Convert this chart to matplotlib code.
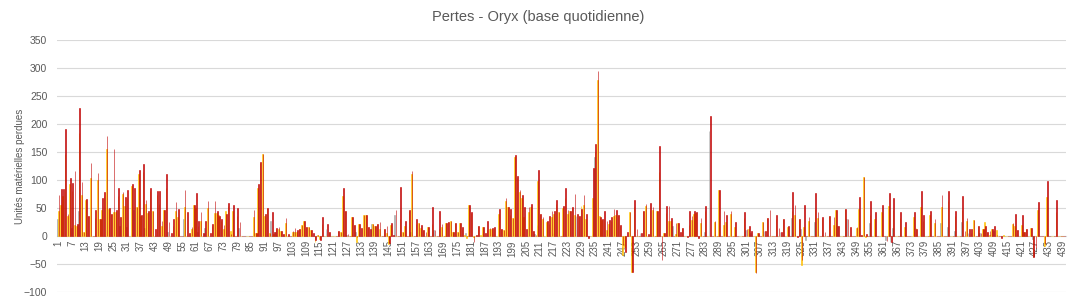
import numpy as np
import matplotlib.pyplot as plt

# daily losses, day 1 .. 440 (three series)
red = [
    74, 84, 84, 191, 40, 104, 94, 116, 21, 229,
    97, 8, 66, 36, 130, 0, 47, 113, 31, 67,
    79, 179, 50, 40, 155, 47, 86, 34, 78, 70,
    83, 0, 92, 85, 52, 117, 37, 128, 65, 44,
    85, 44, 13, 80, 80, 27, 47, 110, 25, 6,
    31, 61, 49, 0, 0, 82, 42, 6, 16, 56,
    76, 26, 42, 6, 27, 63, 5, 22, 63, 44,
    35, 31, 19, 40, 59, 3, 56, 0, 50, 25,
    0, 0, 0, 0, 0, 47, 6, 92, 132, 146,
    40, 50, 6, 43, 8, 15, 16, 9, 3, 33,
    3, 0, 9, 14, 11, 12, 20, 26, 16, 16,
    11, 6, -8, 2, -7, 34, 0, 21, 7, 0,
    0, 0, 9, 7, 85, 44, 3, 0, 34, 20,
    -2, 22, 14, 38, 38, 16, 12, 22, 18, 22,
    25, 0, 12, 18, -13, 24, 2, 47, 0, 87,
    7, 27, 0, 47, 116, 0, 31, 24, 20, 11,
    7, 16, 0, 51, 11, 0, 45, 22, 0, 24,
    25, 27, 7, 24, 7, 24, 16, 0, 0, 56,
    43, -10, 2, 18, 0, 16, 6, 27, 14, 14,
    16, 0, 49, 13, 11, 67, 52, 49, 33, 145,
    107, 83, 74, 51, 13, 51, 58, 9, 2, 117,
    40, 34, 0, 27, 36, 45, 45, 65, 43, 0,
    53, 86, 47, 45, 51, 75, 40, 35, 49, 74,
    40, -4, 0, 122, 164, 294, 34, 31, 45, 27,
    29, 34, 49, 47, 38, 20, -16, -28, 7, 43,
    -65, 65, 12, 0, 5, 45, 58, 3, 59, 52,
    0, 44, 160, -43, 6, 54, 53, 32, 0, 23,
    24, 7, 14, 0, -2, 45, 35, 45, 43, -4,
    32, 0, 54, 0, 214, 0, 27, 0, 83, 0,
    45, 38, 0, 45, 0, 25, 0, 0, 0, 43,
    13, 18, 9, 0, -66, 6, 0, 25, 9, 33,
    47, 0, 0, 38, 14, 7, 31, 0, 18, 0,
    78, 56, -2, 31, -42, 56, 0, 34, 0, 0,
    76, 42, 0, 34, 7, 0, 36, 0, 34, 47,
    18, 0, 0, 49, 31, 16, 0, 0, 16, 69,
    2, 105, 4, 0, 63, 0, 42, 0, 0, 56,
    0, -9, 76, -11, 67, 0, 0, 43, 0, 25,
    0, 0, 0, 42, 13, 0, 81, 38, 0, 0,
    45, 0, 31, 0, 0, 74, 0, 0, 81, 0,
    0, 45, 0, 0, 72, 9, 33, 13, 13, 29,
    0, 18, 5, 13, 18, 7, 9, 13, 18, 2,
    0, -4, 0, 0, 0, 0, 24, 40, 11, 0,
    38, 7, 13, 0, 14, -37, -22, 60, 0, 0,
    -14, 99, 0, 0, 0, 65, 0, 0, 0, 0,
]

yellow = [
    44, 56, 72, 146, 35, 92, 81, 20, 18, 184,
    74, 8, 65, 35, 103, 0, 32, 100, 30, 46,
    72, 155, 48, 39, 43, 43, 71, 18, 75, 53,
    67, 0, 89, 0, 52, 110, 35, 114, 58, 41,
    81, 44, 0, 74, 58, 17, 46, 85, 0, 0,
    17, 44, 34, 0, 0, 52, 0, 0, 12, 56,
    50, 18, 26, 0, 0, 50, 0, 18, 41, 41,
    37, 26, 12, 44, 53, 9, 44, 0, 36, 0,
    0, 0, 0, 0, 0, 34, 6, 85, 130, 146,
    36, 50, 6, 0, 3, 12, 12, 9, 3, 24,
    0, 0, 7, 8, 8, 12, 19, 26, 16, 16,
    11, 0, -10, 2, -5, 21, 0, 0, 7, 0,
    0, 0, 9, 7, 72, 44, 0, 0, 34, 20,
    -10, 22, 0, 38, 38, 16, 0, 22, 18, 22,
    12, 0, 12, 5, -15, 20, 0, 0, 0, 31,
    8, 18, 0, 44, 110, 0, 22, 24, 14, 11,
    0, 16, 0, 22, 0, 0, 13, 16, 0, 24,
    25, 27, 7, 24, 7, 24, 13, 2, -4, 56,
    41, -2, 0, 18, 2, 16, 0, 11, 13, 13,
    14, 0, 40, 13, 11, 63, 52, 38, 33, 141,
    103, 78, 68, 34, 0, 43, 52, 9, 0, 98,
    40, 30, 0, 25, 22, 34, 40, 58, 43, 0,
    50, 68, 40, 45, 50, 38, 0, 35, 54, 55,
    31, 0, 0, 67, 150, 278, 36, 29, 31, 11,
    22, 27, 36, 38, 38, 17, -34, -19, 0, 43,
    -65, 51, 0, 0, 0, 45, 54, 0, 47, 47,
    0, 45, 114, 0, 6, 41, 27, 27, 0, 3,
    23, 0, 14, 0, 0, 20, 29, 40, 41, 0,
    24, 0, 45, 0, 0, 0, 25, 0, 83, 0,
    20, 25, 0, 40, 0, 16, 0, 0, 0, 33,
    0, 13, 0, 0, -64, 6, 0, 25, 0, 33,
    0, 0, 0, 31, 0, 0, 31, 0, 16, 0,
    45, 38, 0, 31, -52, 16, 0, 27, 0, 0,
    49, 33, 0, 31, 0, 0, 36, 0, 20, 47,
    0, 0, 0, 49, 0, 0, 0, 0, 14, 49,
    2, 105, -2, 0, 38, 0, 31, 0, 0, 42,
    0, 0, 54, 0, 47, 0, 0, 33, 0, 16,
    0, 0, 0, 34, 14, 0, 52, 27, 0, 0,
    38, 0, 24, 0, 0, 51, 0, 0, 63, 0,
    0, 36, 0, 0, 47, 0, 27, 0, 5, 29,
    0, 18, 0, 13, 25, 7, 2, 13, 0, 11,
    0, -2, 2, 0, 0, 0, 22, 18, 11, 0,
    20, 7, 13, 0, 14, -37, 0, 47, 0, 0,
    -17, 69, 0, 0, 0, 43, 0, 0, 0, 0,
]

grey = [
    31, 0, 0, 0, 0, 0, 14, 0, 0, 44,
    0, 0, 0, 0, 0, 0, 0, 0, 0, 0,
    0, 0, 0, 0, 0, 0, 0, 17, 0, 0,
    16, 0, 0, 47, 0, 0, 0, 0, 14, 0,
    0, 0, 0, 0, 0, 0, 0, 0, 8, 0,
    0, 0, 0, 0, 0, 31, 0, 0, 0, 0,
    0, 8, 0, 0, 14, 0, 0, 0, 0, 0,
    0, 0, 0, 0, 0, 0, 0, 0, 0, 14,
    0, 0, 0, 0, 0, 0, 0, 0, 0, 0,
    0, 0, 0, 27, 0, 8, 0, 0, 0, 0,
    0, 0, 0, 8, 0, 0, 0, 0, 0, 0,
    0, 0, 0, 0, 0, 0, 0, 13, 0, 0,
    0, 0, 0, 0, 8, 0, 2, 0, 0, 0,
    8, 0, 0, 0, 0, 0, 0, 22, 0, 0,
    0, 0, 0, 0, 0, 0, 0, 38, 0, 0,
    0, 0, 0, 0, 8, 0, 0, 0, 0, 0,
    0, 0, 0, 0, 11, 0, 0, 0, 0, 0,
    0, 0, 0, 0, 0, 0, 0, 0, 5, 0,
    0, 0, 0, 0, 0, 0, 0, 0, 0, 0,
    0, 0, 0, 0, 0, 0, 0, 0, 0, 0,
    0, 0, 0, 0, 0, 0, 0, 0, 4, 20,
    0, 0, 0, 0, 0, 0, 5, 0, 0, 0,
    0, 0, 0, 0, 0, 0, 36, 0, 0, 0,
    0, 0, 0, 0, 141, 0, 0, 0, 0, 0,
    0, 0, 0, 0, 0, 0, 0, 0, 0, 0,
    0, 0, 0, 0, 5, 0, 0, 0, 0, 0,
    0, 0, 0, 0, 0, 0, 0, 0, 17, 0,
    0, 0, 0, 0, 0, 0, 0, 0, 0, 0,
    0, 0, 8, 0, 187, 0, 0, 0, 0, 0,
    0, 0, 0, 0, 0, 0, 0, 0, 0, 0,
    10, 0, 6, 0, 0, 6, 0, 0, 9, 0,
    0, 0, 0, 0, 0, 7, 0, 0, 0, 0,
    33, 0, 0, 0, 13, 0, -7, 0, 0, 0,
    25, 0, 0, 0, 0, 0, 0, 0, 0, 0,
    18, 0, 0, 0, 31, 0, 0, 0, 0, 0,
    0, 0, 0, 0, 23, 0, 0, 0, 0, 0,
    0, -7, 0, -10, 14, 0, 0, 0, 0, 0,
    0, 0, 0, 0, 0, 0, 0, 0, 0, 0,
    0, 0, 0, 0, 0, 23, 0, 0, 16, 0,
    0, 9, 0, 0, 25, 0, 0, 5, 0, 0,
    0, 0, 5, 0, 0, 0, 0, 0, 9, 0,
    0, 0, 0, 0, 0, 0, 0, 0, 0, 0,
    0, 0, 0, 0, 0, -5, 0, 0, 0, 0,
    0, 0, 0, 0, 0, 0, 0, 0, 0, 0,
]

y_ticks = [-100, -50, 0, 50, 100, 150, 200, 250, 300, 350]

plt.rcParams['font.family'] = ['Liberation Sans', 'DejaVu Sans']
txt = '#595959'

days = np.arange(1, len(red) + 1)

fig = plt.figure(figsize=(10.77, 3.04), dpi=100)
ax = fig.add_axes([0.053, 0.0395, 0.937, 0.829])

w = 0.3
ax.bar(days - w, grey, width=w, color='#A5A5A5', lw=0.4, edgecolor='#A5A5A5', zorder=3)
ax.bar(days, yellow, width=w, color='#FFC000', lw=0.4, edgecolor='#FFC000', zorder=3)
ax.bar(days + w, red, width=w, color='#C00000', lw=0.4, edgecolor='#C00000', zorder=3)

ax.set_xlim(0.5, len(red) + 0.5)
ax.set_ylim(-100, 350)
ax.set_yticks(y_ticks)
ax.yaxis.grid(True, color='#D9D9D9', lw=0.8, zorder=0)
ax.set_axisbelow(True)

# category axis sits on the zero line, like in Excel
ax.spines['bottom'].set_position(('data', 0))
ax.spines['bottom'].set_color('#D9D9D9')
for s in ['top', 'right', 'left']:
    ax.spines[s].set_visible(False)

ax.set_xticks(days[::6])
ax.set_xticklabels([str(d) for d in days[::6]], rotation=90, fontsize=7, color=txt)
ax.tick_params(axis='x', length=0, pad=3)
ax.tick_params(axis='y', length=0, pad=7, labelsize=7.5, labelcolor=txt)

ax.set_ylabel('Unités matérielles perdues', fontsize=7, color=txt, labelpad=-1)
fig.text(0.5, 0.945, 'Pertes - Oryx (base quotidienne)', ha='center', va='center',
         fontsize=10.5, color=txt)

fig.savefig('out.png', dpi=100)
